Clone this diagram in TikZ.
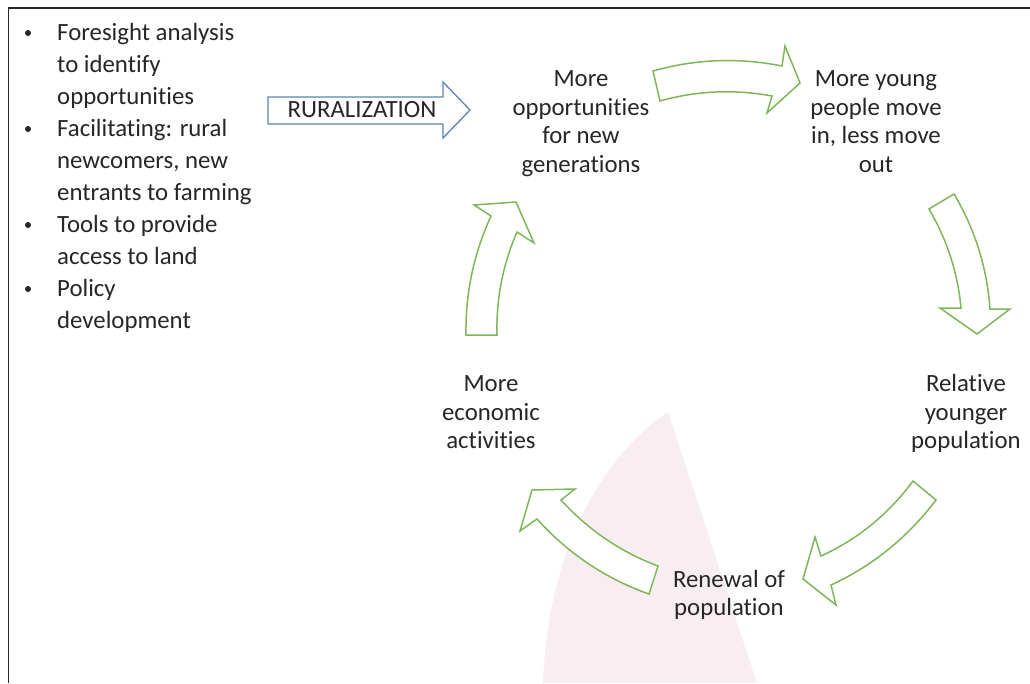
\documentclass[tikz,border=0pt]{standalone}
\usepackage{fontspec}
\setmainfont{Carlito}[Ligatures=NoCommon]
\definecolor{arrgreen}{HTML}{7FB65A}
\definecolor{arrblue}{HTML}{5B84B4}
\definecolor{pinkbg}{HTML}{F8EEF2}
\definecolor{txt}{HTML}{262626}
\begin{document}
\begin{tikzpicture}[x=1pt,y=-1pt,
  lbl/.style={font=\fontsize{24.8}{28.5}\selectfont, text=txt, align=center, inner sep=0pt, anchor=base},
  item/.style={font=\fontsize{24.8}{32}\selectfont, text=txt, align=left, inner sep=0pt, anchor=base west},
  garrow/.style={draw=arrgreen, line width=1.5pt, fill=white, line join=miter},
  barrow/.style={draw=arrblue, line width=1.3pt, fill=white, line join=miter},
  bul/.style={circle, fill=txt, inner sep=0pt, minimum size=6pt},
  frame/.style={draw=black!85, line width=1.5pt}]
\useasboundingbox (0,0) rectangle (1030,683);
% background pink sail
\fill[pinkbg] (668,412) .. controls (610,450) and (548,540) .. (543,683) -- (757,683) -- cycle;
% frame
\draw[frame] (8.5,683) -- (8.5,8) -- (1030,8);
% bullet list (anchors at baseline of last line)
\node[bul] (b1) at (28,33) {};
\node[bul] (b2) at (28,129) {};
\node[bul] (b3) at (28,225) {};
\node[bul] (b4) at (28,289) {};
\node[item] (i1) at (57,104) {Foresight analysis\\to identify\\opportunities};
\node[item] (i2) at (57,200) {Facilitating: rural\\newcomers, new\\entrants to farming};
\node[item] (i3) at (57,264) {Tools to provide\\access to land};
\node[item] (i4) at (57,328) {Policy\\development};
% ruralization arrow
\draw[barrow] (268,97) -- (443,97) -- (443,82) -- (470,110) -- (443,138) -- (443,124) -- (268,124) -- cycle;
\node[lbl] (rural) at (362,117) {RURALIZATION};
% cycle labels
\node[lbl] (opp) at (581,172) {More\\opportunities\\for new\\generations};
\node[lbl] (young) at (876,172) {More young\\people move\\in, less move\\out};
\node[lbl] (rel) at (966,448.5) {Relative\\younger\\population};
\node[lbl] (ren) at (729,615.5) {Renewal of\\population};
\node[lbl] (eco) at (491,448.5) {More\\economic\\activities};
% green curved block arrows
\draw[garrow] (653,71) .. controls (695.3,59) and (738.3,57.3) .. (782,66) -- (785,46) -- (800,83) -- (767,113) -- (772,96) .. controls (734,89) and (696.7,90.7) .. (660,101) -- cycle;
\draw[garrow] (929,209) .. controls (947,239.7) and (957.7,272.7) .. (961,308) -- (940,308) -- (977,334) -- (1010,309) -- (990,309) .. controls (987,267.7) and (975,229.3) .. (954,194) -- cycle;
\draw[garrow] (913,481) .. controls (888.3,514.3) and (857.7,539.3) .. (821,556) -- (815,537) -- (803,579) -- (836,605) -- (831,585) .. controls (872.3,566) and (907.3,537.7) .. (936,500) -- cycle;
\draw[garrow] (658,566) .. controls (620.7,552) and (588.3,530) .. (561,500) -- (575,489) -- (532,490) -- (520,531) -- (537,519) .. controls (568.3,553.7) and (605.7,578.7) .. (649,594) -- cycle;
\draw[garrow] (466,335) .. controls (465.3,293.4) and (473.7,253.7) .. (491,216) -- (474,205) -- (516,202) -- (534,243) -- (517,232) .. controls (502.7,264.7) and (496.1,299) .. (497,335) -- cycle;
\end{tikzpicture}
\end{document}
